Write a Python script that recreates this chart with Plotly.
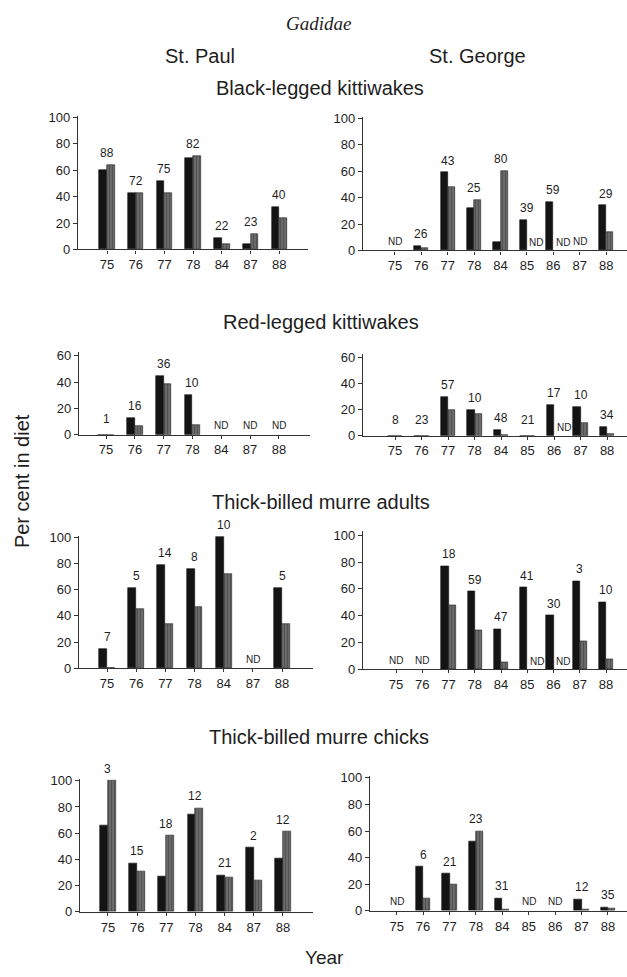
import plotly.graph_objects as go

W, H = 627, 977

# ---- data -------------------------------------------------------------
years_paul = ["75", "76", "77", "78", "84", "87", "88"]
years_george = ["75", "76", "77", "78", "84", "85", "86", "87", "88"]

# Black-legged kittiwakes
paul_blk_dark = [60, 43, 52, 69, 9, 4, 32]
paul_blk_grey = [64, 43, 43, 71, 4, 12, 24]
paul_blk_n = ["88", "72", "75", "82", "22", "23", "40"]

george_blk_dark = [None, 3.5, 59, 32, 6.5, 23, 37, None, 34]
george_blk_grey = [None, 1.7, 48, 38, 60, None, None, None, 14]
george_blk_n = ["ND", "26", "43", "25", "80", "39", "59", "ND", "29"]
george_blk_grey_nd = ["85", "86"]

# Red-legged kittiwakes
paul_rlk_dark = [0, 13, 45, 30, None, None, None]
paul_rlk_grey = [0, 6.5, 39, 7.5, None, None, None]
paul_rlk_n = ["1", "16", "36", "10", "ND", "ND", "ND"]

george_rlk_dark = [0, 0, 30, 20, 4.5, 0, 24, 22, 6.5]
george_rlk_grey = [0, 0, 20, 16.5, 0.8, 0, None, 10, 1.5]
george_rlk_n = ["8", "23", "57", "10", "48", "21", "17", "10", "34"]
george_rlk_grey_nd = ["86"]

# Thick-billed murre adults
paul_tbma_dark = [15, 61, 79, 76, 100, None, 61]
paul_tbma_grey = [0, 45, 34, 47, 72, None, 34]
paul_tbma_n = ["7", "5", "14", "8", "10", "ND", "5"]

george_tbma_dark = [None, None, 77, 58, 30, 61, 40, 66, 50]
george_tbma_grey = [None, None, 48, 29, 5.5, None, None, 21, 7.5]
george_tbma_n = ["ND", "ND", "18", "59", "47", "41", "30", "3", "10"]
george_tbma_grey_nd = ["85", "86"]

# Thick-billed murre chicks
paul_tbmc_dark = [66, 37, 27, 74, 28, 49, 41]
paul_tbmc_grey = [100, 31, 58, 79, 26, 24, 61]
paul_tbmc_n = ["3", "15", "18", "12", "21", "2", "12"]

george_tbmc_dark = [None, 33, 28, 52, 9.5, None, None, 8.7, 2.7]
george_tbmc_grey = [None, 9, 20, 60, 1, None, None, 0.7, 1.7]
george_tbmc_n = ["ND", "6", "21", "23", "31", "ND", "ND", "12", "35"]

# ---- panel geometry (pixels) -----------------------------------------
# left, right, y of zero line, px per percent, y max, x range
panels = [
    dict(years=years_paul, dark=paul_blk_dark, grey=paul_blk_grey, n=paul_blk_n, nd=[],
         geo=(78, 308, 247, 1.34, 101, (-1.01, 7.0)), yt=[0, 20, 40, 60, 80, 100]),
    dict(years=years_george, dark=george_blk_dark, grey=george_blk_grey, n=george_blk_n,
         nd=george_blk_grey_nd, geo=(363, 627, 248, 1.34, 101, (-1.21, 8.79)),
         yt=[0, 20, 40, 60, 80, 100]),
    dict(years=years_paul, dark=paul_rlk_dark, grey=paul_rlk_grey, n=paul_rlk_n, nd=[],
         geo=(79, 310, 435, 1.333, 63, (-0.94, 7.08)), yt=[0, 20, 40, 60]),
    dict(years=years_george, dark=george_rlk_dark, grey=george_rlk_grey, n=george_rlk_n,
         nd=george_rlk_grey_nd, geo=(363, 627, 436, 1.317, 63, (-1.21, 8.75)),
         yt=[0, 20, 40, 60]),
    dict(years=years_paul, dark=paul_tbma_dark, grey=paul_tbma_grey, n=paul_tbma_n, nd=[],
         geo=(79, 313, 672, 1.33, 101, (-0.96, 7.06)), yt=[0, 20, 40, 60, 80, 100]),
    dict(years=years_george, dark=george_tbma_dark, grey=george_tbma_grey, n=george_tbma_n,
         nd=george_tbma_grey_nd, geo=(363, 627, 673, 1.36, 103, (-1.26, 8.8)),
         yt=[0, 20, 40, 60, 80, 100]),
    dict(years=years_paul, dark=paul_tbmc_dark, grey=paul_tbmc_grey, n=paul_tbmc_n, nd=[],
         geo=(80, 313, 919, 1.33, 101, (-0.96, 7.03)), yt=[0, 20, 40, 60, 80, 100]),
    dict(years=years_george, dark=george_tbmc_dark, grey=george_tbmc_grey, n=george_tbmc_n,
         nd=[], geo=(370, 627, 918, 1.35, 101, (-1.01, 8.72)), yt=[0, 20, 40, 60, 80, 100]),
]

FONT = "Liberation Sans, Arial, sans-serif"
INK = "#1e1e1e"
BAR_W = 0.27

fig = go.Figure()
layout = dict(
    width=W, height=H, margin=dict(l=0, r=0, t=0, b=0),
    paper_bgcolor="white", plot_bgcolor="white", showlegend=False,
    font=dict(family=FONT, color=INK),
)
annotations = []

for i, p in enumerate(panels, start=1):
    left, right, y0, ppu, ymax, xr = p["geo"]
    top = y0 - ymax * ppu
    xa = "x" if i == 1 else f"x{i}"
    ya = "y" if i == 1 else f"y{i}"
    idx = list(range(len(p["years"])))

    fig.add_trace(go.Bar(
        x=idx, y=p["dark"], xaxis=xa, yaxis=ya, width=BAR_W, offset=-BAR_W,
        marker=dict(color="#141414", line=dict(color="#111", width=0.6)),
    ))
    fig.add_trace(go.Bar(
        x=idx, y=p["grey"], xaxis=xa, yaxis=ya, width=BAR_W, offset=0,
        marker=dict(color="#5c5c5c", line=dict(color="#222", width=0.6),
                    pattern=dict(shape="|", fgcolor="#3a3a3a", bgcolor="#6a6a6a",
                                 size=3, solidity=0.35)),
    ))

    layout["xaxis" if i == 1 else f"xaxis{i}"] = dict(
        domain=[left / W, right / W], anchor=ya, range=list(xr),
        tickmode="array", tickvals=idx, ticktext=p["years"],
        showline=True, linecolor="#333", linewidth=1.2, ticks="outside",
        ticklen=3, tickcolor="#333", tickfont=dict(size=13, color=INK),
        showgrid=False, zeroline=False, fixedrange=True,
    )
    layout["yaxis" if i == 1 else f"yaxis{i}"] = dict(
        domain=[1 - y0 / H, 1 - top / H], anchor=xa, range=[0, ymax],
        tickmode="array", tickvals=p["yt"],
        showline=True, linecolor="#333", linewidth=1.2, ticks="outside",
        ticklen=4, tickcolor="#333", tickfont=dict(size=13, color=INK),
        showgrid=False, zeroline=False, fixedrange=True,
    )

    # sample-size labels above each pair of bars, "ND" where no data
    for k, lab in enumerate(p["n"]):
        d = p["dark"][k] or 0
        g = p["grey"][k] or 0
        if lab == "ND":
            annotations.append(dict(
                x=k, y=0, xref=xa, yref=ya, text="ND", showarrow=False,
                yanchor="middle", yshift=9, font=dict(size=10, color=INK)))
        else:
            top_val = max(d, g)
            annotations.append(dict(
                x=k, y=top_val, xref=xa, yref=ya, text=lab, showarrow=False,
                yanchor="middle", yshift=12 if top_val > 0 else 16,
                font=dict(size=12, color=INK)))
    # "ND" for the second series only
    for yr in p["nd"]:
        k = p["years"].index(yr)
        annotations.append(dict(
            x=k + 0.36, y=0, xref=xa, yref=ya, text="ND", showarrow=False,
            yanchor="middle", yshift=8, font=dict(size=10, color=INK)))


def ptext(text, x, y, size, **kw):
    annotations.append(dict(
        text=text, x=x / W, y=1 - y / H, xref="paper", yref="paper",
        showarrow=False, xanchor="center", yanchor="middle",
        font=dict(size=size, color=INK, family=kw.pop("family", FONT)), **kw))


ptext("<i>Gadidae</i>", 318, 18, 19, family="Liberation Serif, Times New Roman, serif")
ptext("St. Paul", 200, 51, 20)
ptext("St. George", 477, 51, 20)
ptext("Black-legged kittiwakes", 320, 83, 20)
ptext("Red-legged kittiwakes", 321, 321, 20)
ptext("Thick-billed murre adults", 321, 503, 20)
ptext("Thick-billed murre chicks", 319, 742, 20)
ptext("Year", 324, 965, 19)
ptext("Per cent in diet", 22, 482, 20, textangle=-90)

layout["annotations"] = annotations
layout["bargap"] = 0
fig.update_layout(**layout)

fig.write_html("out.html")
